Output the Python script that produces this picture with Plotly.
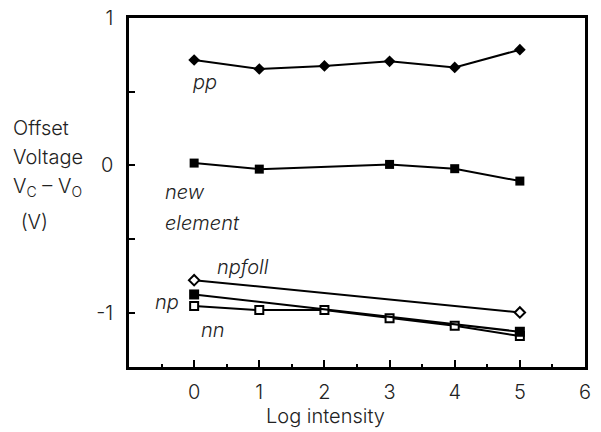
import plotly.graph_objects as go

# ---- data ----
x_pp = [0, 1, 2, 3, 4, 5]
y_pp = [0.715, 0.654, 0.675, 0.706, 0.665, 0.785]

x_new = [0, 1, 3, 4, 5]
y_new = [0.016, -0.025, 0.007, -0.022, -0.106]

x_npfoll = [0, 5]
y_npfoll = [-0.778, -0.997]

x_np = [0, 5]
y_np = [-0.875, -1.128]

x_nn = [0, 1, 2, 3, 4, 5]
y_nn = [-0.954, -0.981, -0.981, -1.036, -1.087, -1.157]

x_ticks = [0, 1, 2, 3, 4, 5, 6]
x_minor = [-0.5, 0.5, 1.5, 2.5, 3.5, 4.5, 5.5]
y_ticks = [-1, 0, 1]
y_ticktext = ["-1", "0", "1"]
y_minor = [-0.5, 0.5]

FONT = "Inter"
WEIGHT = 300
FS = 20
TXT = "#222"

fig = go.Figure()

def add(x, y, symbol, size, fill, lw=2):
    fig.add_trace(go.Scatter(
        x=x, y=y, mode="lines+markers",
        line=dict(color="black", width=2),
        marker=dict(symbol=symbol, size=size, color=fill,
                    line=dict(color="black", width=lw)),
        showlegend=False, cliponaxis=False))

add(x_pp, y_pp, "diamond", 9, "black", 0)
add(x_new, y_new, "square", 9, "black", 0)
add(x_npfoll, y_npfoll, "diamond", 8, "white", 2)
add(x_nn, y_nn, "square", 8, "white", 2)
add(x_np, y_np, "square", 10, "black", 0)

# plot area pixels: x 129..585, y 17.5..367
L, R, T, B = 129, 585, 17.5, 367
W, H = R - L, B - T

def px(xp):
    return (xp - L) / W

def py(yp):
    return (B - yp) / H

def fnt(italic=False):
    return dict(family=FONT, size=FS, color=TXT, weight=WEIGHT,
                style="italic" if italic else "normal")

def ann(text, xp, yp, italic=False, xanchor="left"):
    fig.add_annotation(
        text=text, xref="paper", yref="paper", x=px(xp), y=py(yp),
        xanchor=xanchor, yanchor="middle", showarrow=False,
        font=fnt(italic))

ann("pp", 191, 82, True)
ann("new", 163, 192, True)
ann("element", 163, 223, True)
ann("npfoll", 215, 267, True)
ann("np", 153, 302, True)
ann("nn", 199, 330, True)

ann("Offset", 11, 128)
ann("Voltage", 11, 157)
ann("V<sub>C</sub> – V<sub>O</sub>", 11, 187)
ann(" (V)", 13, 222)

ann("Log intensity", 325, 416, xanchor="center")

fig.update_xaxes(
    range=[-1, 6], tickmode="array", tickvals=x_ticks,
    ticks="inside", ticklen=7, tickwidth=1.5, tickcolor="black",
    minor=dict(tickmode="array", tickvals=x_minor,
               ticks="inside", ticklen=3, tickwidth=1.5, tickcolor="black"),
    showline=True, linewidth=2.5, linecolor="black", mirror=True,
    showgrid=False, zeroline=False, automargin=False,
    tickfont=fnt(),
    ticklabelstandoff=5)

fig.update_yaxes(
    range=[-1.367, 1], tickmode="array", tickvals=y_ticks, ticktext=y_ticktext,
    ticks="inside", ticklen=6, tickwidth=1.5, tickcolor="black",
    minor=dict(tickmode="array", tickvals=y_minor,
               ticks="inside", ticklen=6, tickwidth=1.5, tickcolor="black"),
    showline=True, linewidth=2.5, linecolor="black", mirror=True,
    showgrid=False, zeroline=False, automargin=False,
    tickfont=fnt(),
    ticklabelstandoff=9)

fig.update_layout(
    width=601, height=432,
    margin=dict(l=L, r=601 - R, t=T, b=432 - B),
    plot_bgcolor="white", paper_bgcolor="white",
    font=fnt())

fig.write_html("out.html")
